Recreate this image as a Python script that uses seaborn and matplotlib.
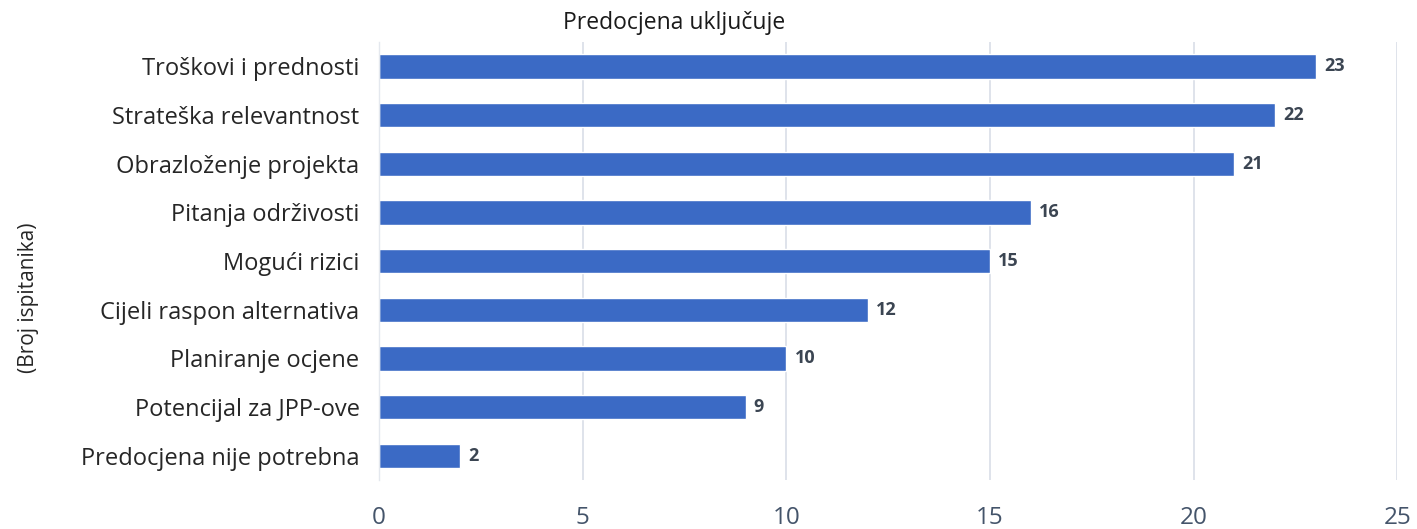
import matplotlib
matplotlib.use("Agg")
import matplotlib.pyplot as plt
import seaborn as sns
import pandas as pd

categories = [
    "Troškovi i prednosti",
    "Strateška relevantnost",
    "Obrazloženje projekta",
    "Pitanja održivosti",
    "Mogući rizici",
    "Cijeli raspon alternativa",
    "Planiranje ocjene",
    "Potencijal za JPP-ove",
    "Predocjena nije potrebna",
]
values = [23, 22, 21, 16, 15, 12, 10, 9, 2]
xticks = [0, 5, 10, 15, 20, 25]

sns.set_theme(style="white")
plt.rcParams['font.family'] = ['Open Sans', 'DejaVu Sans']

df = pd.DataFrame({"cat": categories, "val": values})

fig = plt.figure(figsize=(14.17, 5.29), dpi=100)
ax = fig.add_axes([0.2675, 0.0926, 0.7185, 0.828])

sns.barplot(data=df, x="val", y="cat", orient="h", color="#3B6AC5",
            width=0.5, ax=ax, saturation=1)

ax.set_xlim(0, 25)
ax.set_ylim(8.5, -0.5)
ax.set_xticks(xticks)
ax.set_xticklabels([str(t) for t in xticks], fontsize=17.5, color="#44546A")
ax.tick_params(axis="x", length=0, pad=19)
ax.tick_params(axis="y", length=0, pad=14, labelsize=17, labelcolor="#262626")
ax.grid(axis="x", color="#D9DEE8", linewidth=1.2)
ax.set_axisbelow(True)
for s in ["top", "right", "bottom"]:
    ax.spines[s].set_visible(False)
ax.spines["left"].set_color("#E4E8EE")
ax.spines["left"].set_linewidth(1)

ax.set_xlabel("")
ax.set_ylabel("")

for i, v in enumerate(values):
    ax.text(v + 0.2, i, str(v), va="center", ha="left", fontsize=13,
            fontweight="bold", color="#3B4552")

fig.text(0.476, 0.957, "Predocjena uključuje", ha="center", va="center",
         fontsize=16.5, color="#1a1a1a")
fig.text(0.020, 0.437, "(Broj ispitanika)", rotation=90, ha="center", va="center",
         fontsize=15, color="#262626")

fig.savefig("out.png", dpi=100, facecolor="white")
